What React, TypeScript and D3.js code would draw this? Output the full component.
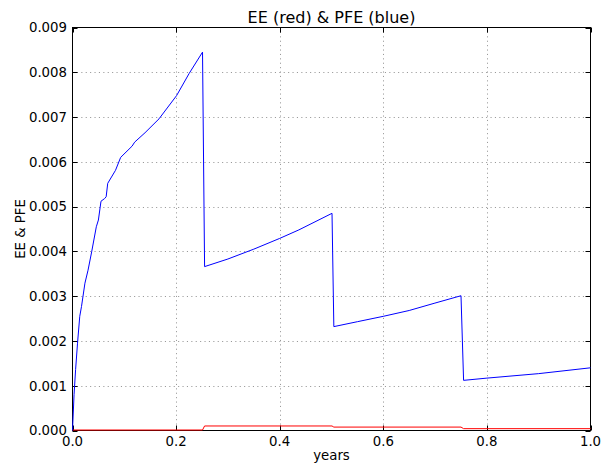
import { useRef, useEffect } from 'react';
import * as d3 from 'd3';

// values
const pfeYears = [0, 0.003, 0.006, 0.0097, 0.014, 0.0174, 0.024, 0.03, 0.037, 0.046, 0.05, 0.055, 0.062, 0.065, 0.068, 0.083, 0.093, 0.115, 0.12, 0.14, 0.167, 0.201, 0.225, 0.251,
  0.255, 0.3, 0.35, 0.4, 0.437, 0.501,
  0.5045, 0.55, 0.6, 0.65, 0.698, 0.75,
  0.755, 0.8, 0.9, 1.0];
const pfe = [0, 0.0008, 0.00136, 0.00195, 0.00255, 0.00277, 0.00329, 0.00358, 0.00399, 0.00455, 0.0047, 0.00512, 0.00518, 0.00522, 0.00552, 0.00581, 0.0061, 0.00635, 0.00644, 0.00665, 0.00696, 0.00748, 0.00797, 0.00845,
  0.00366, 0.00383, 0.00405, 0.00429, 0.00448, 0.00485,
  0.00232, 0.00243, 0.00255, 0.00268, 0.00284, 0.00301,
  0.00112, 0.00117, 0.00127, 0.0014];

const eeYears = [0, 0.251, 0.255, 0.501, 0.5045, 0.75, 0.755, 1.0];
const ee = [0, 0, 0.00009, 0.00009, 0.000065, 0.000065, 0.00003, 0.00003];

const xTicks = [0, 0.2, 0.4, 0.6, 0.8, 1.0];
const yTicks = [0, 0.001, 0.002, 0.003, 0.004, 0.005, 0.006, 0.007, 0.008, 0.009];

const App = () => {
  const svgRef = useRef<SVGSVGElement>(null);

  useEffect(() => {
    const width = 601, height = 465;
    const left = 72.5, right = 590.5, top = 27.5, bottom = 430.5;
    const font = 'DejaVu Sans, sans-serif';

    const svg = d3.select(svgRef.current);
    svg.selectAll('*').remove();
    svg.attr('width', width).attr('height', height);

    svg.append('rect').attr('width', width).attr('height', height).attr('fill', '#fff');

    const x = d3.scaleLinear().domain([0, 1]).range([left, right]);
    const y = d3.scaleLinear().domain([0, 0.009]).range([bottom, top]);

    // grid
    const grid = svg.append('g')
      .attr('stroke', '#999')
      .attr('stroke-width', 1)
      .attr('stroke-dasharray', '1.1,3.3');
    grid.selectAll('.gx').data(xTicks.slice(1, -1)).enter().append('line')
      .attr('x1', d => Math.round(x(d)) + 0.5).attr('x2', d => Math.round(x(d)) + 0.5)
      .attr('y1', top).attr('y2', bottom);
    grid.selectAll('.gy').data(yTicks.slice(1, -1)).enter().append('line')
      .attr('y1', d => Math.round(y(d)) + 0.5).attr('y2', d => Math.round(y(d)) + 0.5)
      .attr('x1', left).attr('x2', right);

    // ticks on all four sides, pointing inward
    const tl = 5;
    const ticks = svg.append('g').attr('stroke', '#000').attr('stroke-width', 1);
    xTicks.forEach(t => {
      const px = Math.round(x(t)) + 0.5;
      ticks.append('line').attr('x1', px).attr('x2', px).attr('y1', bottom).attr('y2', bottom - tl);
      ticks.append('line').attr('x1', px).attr('x2', px).attr('y1', top).attr('y2', top + tl);
    });
    yTicks.forEach(t => {
      const py = Math.round(y(t)) + 0.5;
      ticks.append('line').attr('y1', py).attr('y2', py).attr('x1', left).attr('x2', left + tl);
      ticks.append('line').attr('y1', py).attr('y2', py).attr('x1', right).attr('x2', right - tl);
    });

    // frame
    svg.append('rect')
      .attr('x', left).attr('y', top)
      .attr('width', right - left).attr('height', bottom - top)
      .attr('fill', 'none').attr('stroke', '#000').attr('stroke-width', 1);

    // series, drawn over the frame so the zero stretch of EE shows
    const lineEE = d3.line<number>().x((d, i) => x(eeYears[i])).y(d => y(d) - 0.5);
    const linePFE = d3.line<number>().x((d, i) => x(pfeYears[i])).y(d => y(d));

    svg.append('path').attr('d', lineEE(ee)).attr('fill', 'none')
      .attr('stroke', '#ff0000').attr('stroke-width', 1);
    svg.append('path').attr('d', linePFE(pfe)).attr('fill', 'none')
      .attr('stroke', '#0000ff').attr('stroke-width', 1);

    // tick labels
    svg.selectAll('.xl').data(xTicks).enter().append('text')
      .attr('x', d => x(d)).attr('y', 446)
      .attr('text-anchor', 'middle')
      .attr('font-family', font).attr('font-size', 13.3)
      .attr('fill', '#000')
      .text(d => d.toFixed(1));
    svg.selectAll('.yl').data(yTicks).enter().append('text')
      .attr('x', 67).attr('y', d => y(d) + 4.8)
      .attr('text-anchor', 'end')
      .attr('font-family', font).attr('font-size', 13.3)
      .attr('fill', '#000')
      .text(d => d.toFixed(3));

    // axis labels and title
    svg.append('text')
      .attr('x', (left + right) / 2).attr('y', 459.5)
      .attr('text-anchor', 'middle')
      .attr('font-family', font).attr('font-size', 13.3)
      .text('years');
    svg.append('text')
      .attr('transform', `translate(25,${(top + bottom) / 2}) rotate(-90)`)
      .attr('text-anchor', 'middle')
      .attr('font-family', font).attr('font-size', 13.3)
      .text('EE & PFE');
    svg.append('text')
      .attr('x', (left + right) / 2).attr('y', 22.5)
      .attr('text-anchor', 'middle')
      .attr('font-family', font).attr('font-size', 16)
      .text('EE (red) & PFE (blue)');
  }, []);

  return (
    <div style={{ position: 'absolute', left: 0, top: 0 }}>
      <svg ref={svgRef} style={{ display: 'block' }}></svg>
    </div>
  );
};

export default App;
